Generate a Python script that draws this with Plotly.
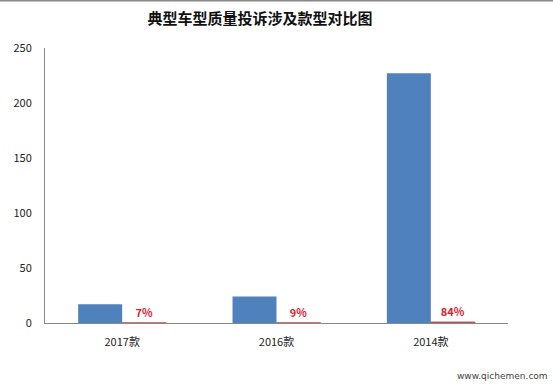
import plotly.graph_objects as go

categories = ["2017款", "2016款", "2014款"]
complaints = [17, 24, 227]
shares = [0.07, 0.09, 0.84]
y_ticks = [0, 50, 100, 150, 200, 250]

fig = go.Figure()
fig.add_trace(go.Bar(
    x=categories, y=complaints, marker=dict(color="#4F81BD", line=dict(width=0)),
    hoverinfo="skip", showlegend=False,
))
fig.add_trace(go.Bar(
    x=categories, y=shares, marker=dict(color="#C0504D", line=dict(color="#C0504D", width=1)),
    text=[f"<b>{round(s*100)}%</b>" for s in shares], textposition="outside",
    textfont=dict(color="#E02030", size=11, family="Noto Sans CJK SC"),
    cliponaxis=False, hoverinfo="skip", showlegend=False,
))

fig.update_layout(
    width=553, height=386,
    margin=dict(l=45, r=45, t=48, b=63),
    paper_bgcolor="white", plot_bgcolor="white",
    barmode="group", bargap=0.43, bargroupgap=0,
    title=dict(text="<b>典型车型质量投诉涉及款型对比图</b>", x=260 / 553, xanchor="center",
               y=1 - 19 / 386, yanchor="middle",
               font=dict(family="Noto Sans CJK SC", size=15, color="#111")),
    font=dict(family="Noto Sans CJK SC", size=11, color="#222"),
    xaxis=dict(showline=True, linecolor="#888", linewidth=1, ticks="", showgrid=False,
               tickfont=dict(size=11, color="#222"), ticklabelstandoff=9),
    yaxis=dict(range=[0, 250], tickvals=y_ticks, showline=True, linecolor="#888", linewidth=1,
               showgrid=False, zeroline=False, ticks="", ticklabelstandoff=10,
               tickfont=dict(size=11, color="#222")),
    shapes=[dict(type="line", xref="paper", yref="paper", x0=-45 / 463, x1=1 + 45 / 463,
                 y0=1 + 47.5 / 275, y1=1 + 47.5 / 275, line=dict(color="#888", width=2))],
    annotations=[dict(text="www.qichemen.com", xref="paper", yref="paper",
                      x=1 + 42 / 463, y=-53 / 275, xanchor="right", yanchor="middle",
                      showarrow=False, font=dict(size=9, color="#444", family="DejaVu Sans"))],
)

fig.write_html("out.html")
